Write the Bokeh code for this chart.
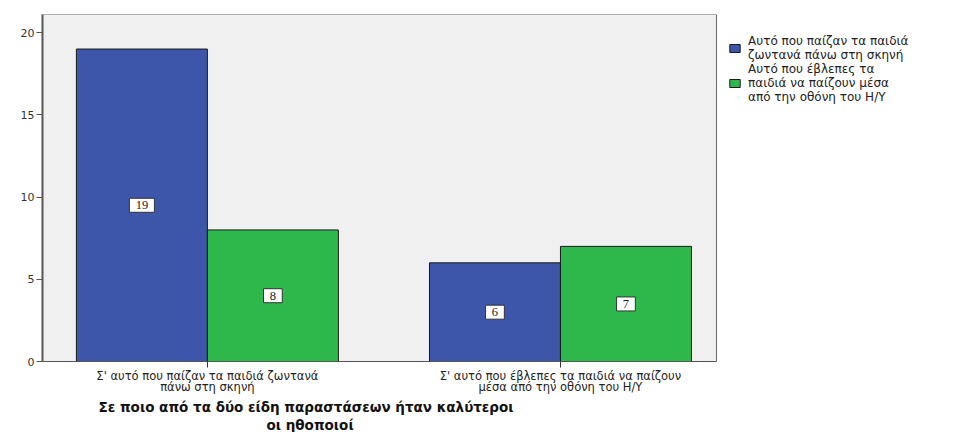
from bokeh.plotting import figure
from bokeh.models import (Range1d, FixedTicker, ColumnDataSource, LabelSet, Title,
                          Legend, LegendItem, BoxAnnotation)
from bokeh.embed import file_html
from bokeh.resources import INLINE

categories = ["Σ' αυτό που παίζαν τα παιδιά ζωντανά\nπάνω στη σκηνή",
              "Σ' αυτό που έβλεπες τα παιδιά να παίζουν\nμέσα από την οθόνη του Η/Υ"]
series_names = ["Αυτό που παίζαν τα παιδιά\nζωντανά πάνω στη σκηνή",
                "Αυτό που έβλεπες τα\nπαιδιά να παίζουν μέσα\nαπό την οθόνη του Η/Υ"]
live_values = [19, 6]
screen_values = [8, 7]
y_ticks = [0, 5, 10, 15, 20]
x_title_lines = ["Σε ποιο από τα δύο είδη παραστάσεων ήταν καλύτεροι", "οι ηθοποιοί"]

BLUE = "#3d56a9"
GREEN = "#2eb84b"
FONT = "DejaVu Sans"
BAR_W = 0.371
SP = "\u2002"

pos = [1, 2]
X_LO, X_HI = 0.533, 2.442          # visible plot area (grey)
X_CANVAS_HI = 3.150                 # extension to the right edge for the legend

p = figure(width=966, height=432, output_backend="svg", toolbar_location=None,
           x_range=Range1d(X_LO, X_CANVAS_HI), y_range=Range1d(0, 21.1),
           min_border_left=42, min_border_right=0, min_border_top=14,
           min_border_bottom=62)
p.background_fill_color = "white"
p.border_fill_color = "white"
p.outline_line_color = None
p.xgrid.visible = False
p.ygrid.visible = False

plot_area = BoxAnnotation(right=X_HI, fill_color="#f0f0f0", fill_alpha=1,
                          line_color="#666666", line_width=1, line_alpha=1,
                          level="underlay")
p.add_layout(plot_area)

src_live = ColumnDataSource(dict(x=[v - BAR_W / 2 for v in pos], top=live_values,
                                 mid=[v / 2 for v in live_values],
                                 lab=[SP + str(v) + SP for v in live_values]))
src_screen = ColumnDataSource(dict(x=[v + BAR_W / 2 for v in pos], top=screen_values,
                                   mid=[v / 2 for v in screen_values],
                                   lab=[SP + str(v) + SP for v in screen_values]))

r1 = p.vbar(x="x", top="top", bottom=0, width=BAR_W, source=src_live,
            fill_color=BLUE, line_color="#1a1a1a", line_width=1)
r2 = p.vbar(x="x", top="top", bottom=0, width=BAR_W, source=src_screen,
            fill_color=GREEN, line_color="#1a1a1a", line_width=1)

for src in (src_live, src_screen):
    ls = LabelSet(x="x", y="mid", text="lab", source=src, text_align="center",
                  text_baseline="middle", text_font=FONT, text_font_size="12.5px",
                  text_color="#222222", background_fill_color="white",
                  border_line_color="#333333", border_line_width=1)
    p.add_layout(ls)

# axes
p.yaxis.ticker = FixedTicker(ticks=y_ticks)
p.yaxis.minor_tick_line_color = None
p.yaxis.major_tick_in = 0
p.yaxis.major_tick_out = 6
p.yaxis.axis_line_color = "#555555"
p.yaxis.axis_line_width = 2
p.yaxis.major_tick_line_color = "#555555"
p.yaxis.major_label_text_font = FONT
p.yaxis.major_label_text_font_size = "11px"
p.yaxis.major_label_text_color = "#333333"
p.yaxis.major_label_standoff = 2

p.xaxis.bounds = (X_LO, X_HI)
p.xaxis.ticker = FixedTicker(ticks=pos)
p.xaxis.major_label_overrides = {pos[i]: categories[i] for i in range(len(pos))}
p.xaxis.minor_tick_line_color = None
p.xaxis.major_tick_in = 0
p.xaxis.major_tick_out = 6
p.xaxis.axis_line_color = "#555555"
p.xaxis.major_tick_line_color = "#333333"
p.xaxis.major_label_text_font = FONT
p.xaxis.major_label_text_font_size = "11.5px"
p.xaxis.major_label_text_color = "#222222"
p.xaxis.major_label_standoff = 1
p.xaxis.major_label_text_line_height = 0.8

t1 = Title(text=x_title_lines[0], align="left", offset=56, standoff=0,
           text_font=FONT, text_font_size="13.5px", text_font_style="bold",
           text_color="#111111", text_line_height=0.85)
t2 = Title(text=x_title_lines[1], align="left", offset=224, standoff=0,
           text_font=FONT, text_font_size="13.5px", text_font_style="bold",
           text_color="#111111", text_line_height=0.85)
p.add_layout(t1, "below")
p.add_layout(t2, "below")

legend = Legend(items=[LegendItem(label=series_names[0], renderers=[r1]),
                       LegendItem(label=series_names[1], renderers=[r2])],
                location=(686, 257), margin=0, padding=0, spacing=0,
                glyph_width=13, glyph_height=10, label_standoff=7,
                label_text_font=FONT, label_text_font_size="12px",
                label_text_color="#222222", label_text_line_height=0.8,
                border_line_color=None, background_fill_alpha=0)
p.add_layout(legend)

open("out.html", "w").write(file_html(p, INLINE))
